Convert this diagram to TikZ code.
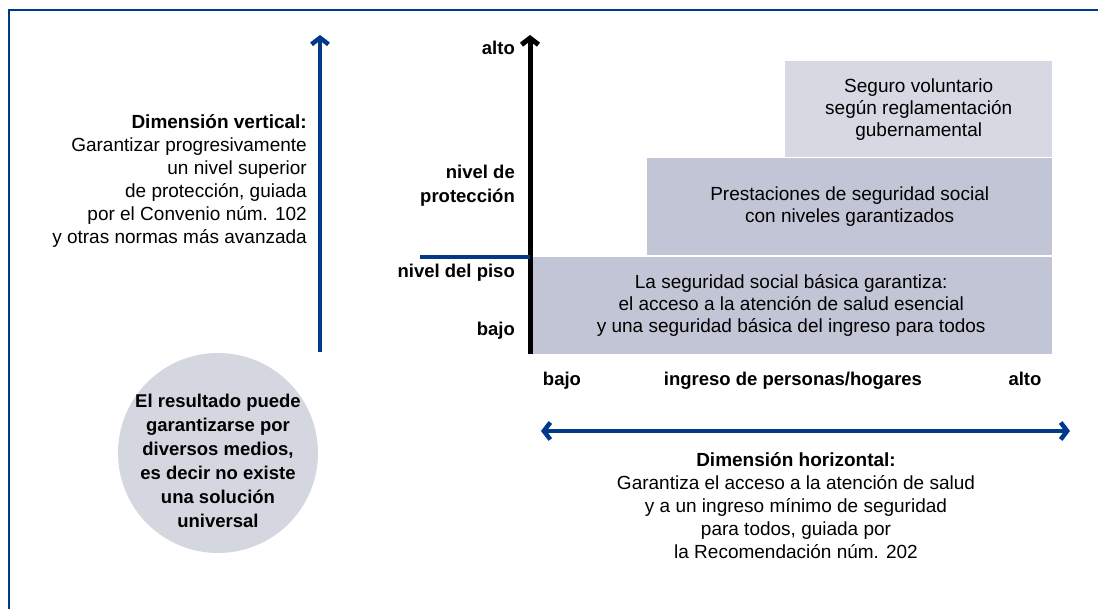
\documentclass[tikz,border=0pt]{standalone}
\usepackage{fontspec}
\setmainfont{Liberation Sans}
\usetikzlibrary{arrows.meta,positioning}
\definecolor{oitblue}{RGB}{0,56,140}
\definecolor{bandgray}{RGB}{194,197,213}
\definecolor{topgray}{RGB}{214,216,226}
\definecolor{circlegray}{RGB}{212,214,224}

\begin{document}
\begin{tikzpicture}
[x=1pt,y=-1pt,
every node/.style={align=center,inner sep=0pt,font=\fontsize{19}{22}\selectfont},
band/.style={fill=bandgray,anchor=north west},
axislbl/.style={anchor=east,align=right,font=\fontsize{18.5}{24}\selectfont\bfseries},
xlbl/.style={anchor=base,font=\fontsize{18.5}{22}\selectfont\bfseries},
blurb/.style={font=\fontsize{19}{23}\selectfont},
dimarrow/.style={draw=oitblue,line width=4.5pt},
tip/.style={-{Straight Barb[length=6.5pt,width=17pt]}},
]

\useasboundingbox (0,0) rectangle (1098,609);
\draw[oitblue,line width=2.5pt] (9,609) |- (1098,10);

% bands of protection
\node[band,minimum width=522pt,minimum height=97pt] (piso) at (530,257)
  {La seguridad social básica garantiza:\\el acceso a la atención de salud esencial\\y una seguridad básica del ingreso para todos};
\node[band,minimum width=405pt,minimum height=97pt] (prest) at (647,158)
  {Prestaciones de seguridad social\\con niveles garantizados};
\node[band,fill=topgray,minimum width=267pt,minimum height=96pt] (seguro) at (785,61)
  {Seguro voluntario\\según reglamentación\\gubernamental};

% axes
\coordinate (origin) at (530,354);
\coordinate (ytop) at (530,35);
\draw[line width=5pt,tip] (origin) -- (ytop);
\coordinate (floorend) at (420,257);
\draw[oitblue,line width=4pt] (floorend) -- (floorend -| origin);

\node[axislbl] (yalto) at (515,48) {alto};
\node[axislbl] (ynivel) at (515,186) {nivel de\\protección};
\node[axislbl] (ypiso) at (515,273) {nivel del piso};
\node[axislbl] (ybajo) at (515,331) {bajo};
\node[xlbl] (xbajo) at (562,386) {bajo};
\node[xlbl] (xingreso) at (793,386) {ingreso de personas/hogares};
\node[xlbl] (xalto) at (1025,386) {alto};

% vertical dimension
\coordinate (vbot) at (320,352);
\coordinate (vtop) at (320,35);
\draw[dimarrow,tip] (vbot) -- (vtop);
\node[blurb,anchor=east,align=right] (vdim) at (307,181.5)
  {\textbf{Dimensión vertical:}\\Garantizar progresivamente\\un nivel superior\\de protección, guiada\\por el Convenio núm. 102\\y otras normas más avanzada};

% horizontal dimension
\coordinate (hleft) at (541,431);
\coordinate (hright) at (1070,431);
\draw[dimarrow,{Straight Barb[length=6.5pt,width=17pt]}-{Straight Barb[length=6.5pt,width=17pt]}] (hleft) -- (hright);
\node[blurb] (hdim) at (796,505.5)
  {\textbf{Dimensión horizontal:}\\Garantiza el acceso a la atención de salud\\y a un ingreso mínimo de seguridad\\para todos, guiada por\\la Recomendación núm. 202};

\node[circle,fill=circlegray,minimum size=200pt] (medios) at (218,453) {};
\node[font=\fontsize{18.5}{24}\selectfont\bfseries] (mediostxt) at (218,461)
  {El resultado puede\\garantizarse por\\diversos medios,\\es decir no existe\\una solución\\universal};
\end{tikzpicture}
\end{document}
